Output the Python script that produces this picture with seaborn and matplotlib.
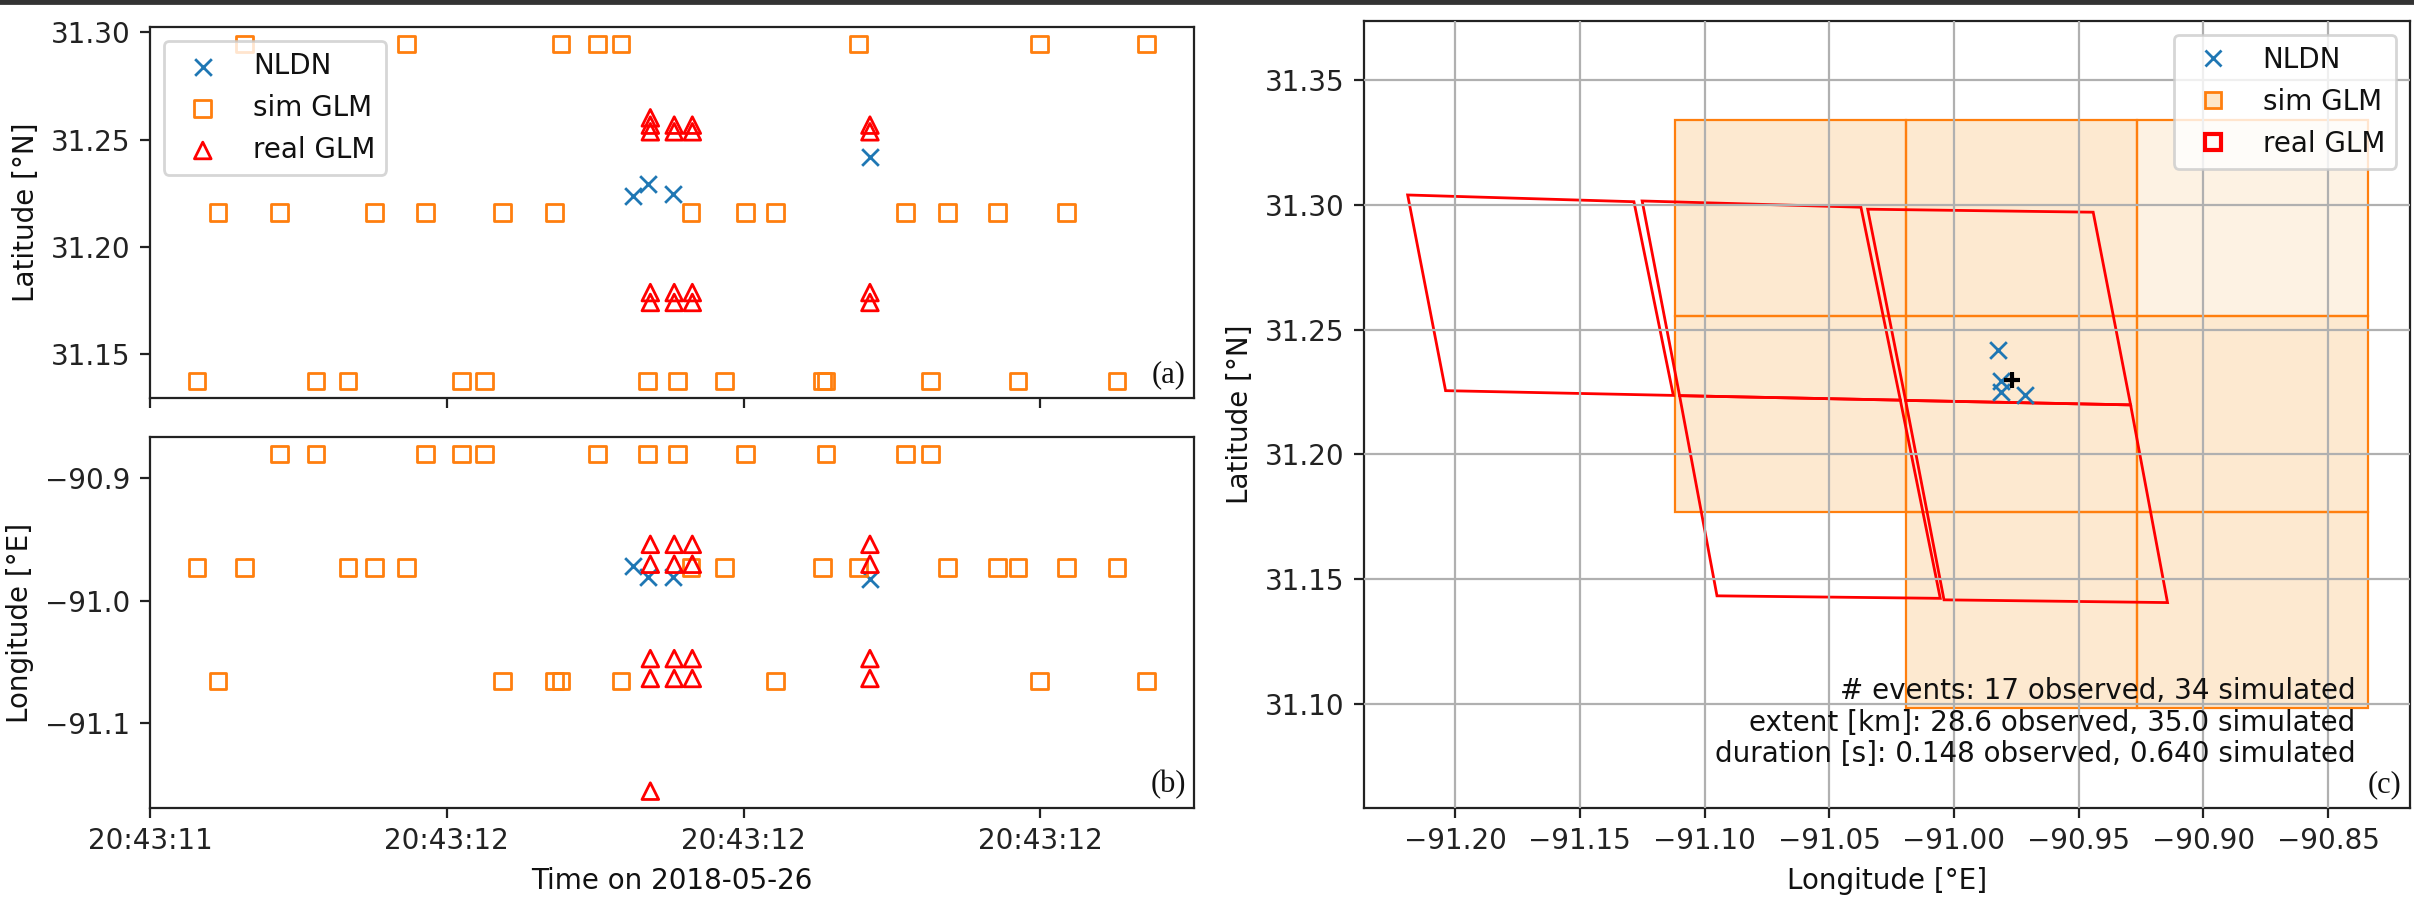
import numpy as np
import pandas as pd
import matplotlib
matplotlib.use("Agg")
import matplotlib.pyplot as plt
import matplotlib.dates as mdates
from matplotlib.patches import Polygon, Rectangle
from matplotlib.lines import Line2D
from matplotlib.ticker import FixedLocator, FuncFormatter
import seaborn as sns

# ---------------------------------------------------------------- data
DAY = "2018-05-26"
BASE = pd.Timestamp(f"{DAY} 20:43:00")

# NLDN strokes: seconds after 20:43:00, latitude, longitude
nldn_sec = [12.1252, 12.1355, 12.1527, 12.2852]
nldn_lat = [31.2237, 31.2294, 31.2248, 31.2418]
nldn_lon = [-90.9717, -90.9811, -90.9811, -90.9824]

# flash centroid
flash_lon = [-90.9768]
flash_lat = [31.2298]

# simulated GLM events (pixel centres)
sim_sec = [11.8316, 11.8458, 11.8637, 11.8871, 11.9118, 11.9335, 11.9514,
           11.9730, 11.9858, 12.0098, 12.0254, 12.0374, 12.0728, 12.0769,
           12.1014, 12.1175, 12.1355, 12.1556, 12.1645, 12.1872, 12.2013,
           12.2214, 12.2533, 12.2556, 12.2774, 12.3093, 12.3258, 12.3373,
           12.3710, 12.3850, 12.3993, 12.4177, 12.4517, 12.4716]
sim_lat = [31.1376, 31.2160, 31.2945, 31.2160, 31.1376, 31.1376, 31.2160,
           31.2945, 31.2160, 31.1376, 31.1376, 31.2160, 31.2160, 31.2945,
           31.2945, 31.2945, 31.1376, 31.1376, 31.2160, 31.1376, 31.2160,
           31.2160, 31.1376, 31.1376, 31.2945, 31.2160, 31.1376, 31.2160,
           31.2160, 31.1376, 31.2945, 31.2160, 31.1376, 31.2945]
sim_lon = [-90.9730, -91.0655, -90.9730, -90.8803, -90.8803, -90.9730,
           -90.9730, -90.9730, -90.8803, -90.8803, -90.8803, -91.0655,
           -91.0655, -91.0655, -90.8803, -91.0655, -90.8803, -90.8803,
           -90.9730, -90.9730, -90.8803, -91.0655, -90.9730, -90.8803,
           -90.9730, -90.8803, -90.8803, -90.9730, -90.9730, -90.9730,
           -91.0655, -90.9730, -90.9730, -91.0655]
SIM_DLON = 0.0925
SIM_DLAT = 0.0785

# observed GLM events
real_sec = [12.1372] * 5 + [12.1533] * 4 + [12.1655] * 4 + [12.2852] * 4
real_lat = ([31.2601, 31.2567, 31.1788, 31.2536, 31.1742]
            + [31.2567, 31.1788, 31.2536, 31.1742] * 3)
real_lon = ([-91.1554, -91.0635, -91.0473, -90.9703, -90.9541]
            + [-91.0635, -91.0473, -90.9703, -90.9541] * 3)

# observed GLM pixel footprints (corner longitudes / latitudes)
pix_lon = [[-91.2190, -91.1283, -91.1125, -91.2038],
           [-91.1250, -91.0373, -91.0215, -91.1100],
           [-91.1100, -91.0215, -91.0055, -91.0950],
           [-91.0346, -90.9442, -90.9292, -91.0194],
           [-91.0194, -90.9292, -90.9144, -91.0040]]
pix_lat = [[31.3039, 31.3012, 31.2236, 31.2255],
           [31.3015, 31.2990, 31.2217, 31.2235],
           [31.2235, 31.2217, 31.1423, 31.1433],
           [31.2982, 31.2970, 31.2198, 31.2216],
           [31.2216, 31.2198, 31.1406, 31.1417]]

extent_obs_km, extent_sim_km = 28.6, 35.0

# ---------------------------------------------------------------- frames
def to_time(sec):
    return BASE + pd.to_timedelta(np.asarray(sec), unit="s")

nldn = pd.DataFrame({"time": to_time(nldn_sec), "lat": nldn_lat, "lon": nldn_lon})
sim = pd.DataFrame({"time": to_time(sim_sec), "lat": sim_lat, "lon": sim_lon})
real = pd.DataFrame({"time": to_time(real_sec), "lat": real_lat, "lon": real_lon})

BLUE, ORANGE, RED = "#1f77b4", "#ff7f0e", "#ff0000"
FILL = "#fde6c8"

sns.set_style("white")
plt.rcParams.update({
    "font.family": ["DejaVu Sans"],
    "font.size": 10,
    "axes.edgecolor": "#222222",
    "axes.linewidth": 0.8,
    "xtick.bottom": True,
    "ytick.left": True,
    "xtick.color": "#222222",
    "ytick.color": "#222222",
    "text.color": "#111111",
    "axes.labelcolor": "#111111",
})


def fmt(decimals):
    """Tick formatter with a typographic minus sign."""
    return FuncFormatter(lambda v, _: f"{v:.{decimals}f}".replace("-", "\u2212"))


W, H = 2414, 902
fig = plt.figure(figsize=(W / 200, H / 200), dpi=200)


def frac(x0, y0, x1, y1):
    return [x0 / W, 1 - y1 / H, (x1 - x0) / W, (y1 - y0) / H]


ax_a = fig.add_axes(frac(150, 27, 1194, 398))
ax_b = fig.add_axes(frac(150, 437, 1194, 808), sharex=ax_a)
ax_c = fig.add_axes(frac(1364, 21, 2410, 808))

mk = dict(s=36, linewidth=1.0)


def time_series(ax, col, legend):
    sns.scatterplot(data=nldn, x="time", y=col, marker="x", color=BLUE,
                    ax=ax, label="NLDN" if legend else None, zorder=3, **mk)
    sns.scatterplot(data=sim, x="time", y=col, marker="s", color=ORANGE,
                    facecolor="none", edgecolor=ORANGE, ax=ax,
                    label="sim GLM" if legend else None, zorder=3, **mk)
    sns.scatterplot(data=real, x="time", y=col, marker="^", color=RED,
                    facecolor="none", edgecolor=RED, ax=ax,
                    label="real GLM" if legend else None, zorder=3, **mk)


time_series(ax_a, "lat", True)
time_series(ax_b, "lon", False)

ax_a.legend(loc="upper left")
ax_a.set_ylabel("Latitude [°N]")
ax_a.set_xlabel("")
ax_a.tick_params(labelbottom=False)
ax_a.yaxis.set_major_locator(FixedLocator([31.15, 31.20, 31.25, 31.30]))
ax_a.yaxis.set_major_formatter(fmt(2))

ax_b.set_ylabel("Longitude [°E]")
ax_b.set_xlabel(f"Time on {DAY}")
ax_b.yaxis.set_major_locator(FixedLocator([-91.1, -91.0, -90.9]))
ax_b.yaxis.set_major_formatter(fmt(1))

t_all = np.concatenate([nldn_sec, sim_sec, real_sec])
span = t_all.max() - t_all.min()
tick_sec = [11.8, 12.0, 12.2, 12.4]
ax_b.set_xlim(to_time([tick_sec[0]])[0], to_time([t_all.max() + 0.05 * span])[0])
ax_b.xaxis.set_major_locator(FixedLocator(mdates.date2num(to_time(tick_sec))))
ax_b.xaxis.set_major_formatter(mdates.DateFormatter("%H:%M:%S"))

for ax in (ax_a, ax_b):
    ax.margins(y=0.05)

# ---------------------------------------------------------------- map
pix = sim.groupby(["lon", "lat"]).size().reset_index(name="n")
for lon, lat, n in pix.itertuples(index=False):
    alpha = 0.85 if n > 1 else 0.5
    ax_c.add_patch(Rectangle((lon - SIM_DLON / 2, lat - SIM_DLAT / 2),
                             SIM_DLON, SIM_DLAT, facecolor=FILL, alpha=alpha,
                             edgecolor="none", zorder=1))
    ax_c.add_patch(Rectangle((lon - SIM_DLON / 2, lat - SIM_DLAT / 2),
                             SIM_DLON, SIM_DLAT, facecolor="none",
                             edgecolor=ORANGE, lw=0.8, zorder=1.2))

for plon, plat in zip(pix_lon, pix_lat):
    ax_c.add_patch(Polygon(np.column_stack([plon, plat]), closed=True,
                           fill=False, edgecolor=RED, lw=1.0, zorder=2))

sns.scatterplot(data=nldn, x="lon", y="lat", marker="x", color=BLUE,
                ax=ax_c, zorder=3, **mk)
ax_c.plot(flash_lon, flash_lat, marker="+", color="black", ms=6, mew=1.5,
          ls="none", zorder=4)

ax_c.set_xlim(-91.2365, -90.8172)
ax_c.set_ylim(31.0583, 31.3736)
ax_c.xaxis.set_major_locator(FixedLocator(np.round(np.arange(-91.20, -90.84, 0.05), 2)))
ax_c.yaxis.set_major_locator(FixedLocator(np.round(np.arange(31.10, 31.36, 0.05), 2)))
ax_c.xaxis.set_major_formatter(fmt(2))
ax_c.yaxis.set_major_formatter(fmt(2))
ax_c.grid(True, color="#b0b0b0", lw=0.8)
ax_c.set_axisbelow(False)
ax_c.set_xlabel("Longitude [°E]")
ax_c.set_ylabel("Latitude [°N]")

handles = [
    Line2D([], [], ls="none", marker="x", color=BLUE, ms=6, mew=1.0),
    Line2D([], [], ls="none", marker="s", mfc=FILL, mec=ORANGE, ms=6, mew=1.0),
    Line2D([], [], ls="none", marker="s", mfc="none", mec=RED, ms=6, mew=1.5),
]
ax_c.legend(handles, ["NLDN", "sim GLM", "real GLM"], loc="upper right")

dur_obs = max(real_sec) - min(real_sec)
dur_sim = max(sim_sec) - min(sim_sec)
summary = (f"# events: {len(real)} observed, {len(sim)} simulated\n"
           f"extent [km]: {extent_obs_km:.1f} observed, {extent_sim_km:.1f} simulated\n"
           f"duration [s]: {dur_obs:.3f} observed, {dur_sim:.3f} simulated")
ax_c.text(0.948, 0.051, summary, transform=ax_c.transAxes, ha="right",
          va="bottom", fontsize=10, linespacing=1.15, zorder=5)

for ax, tag in ((ax_a, "(a)"), (ax_b, "(b)"), (ax_c, "(c)")):
    ax.annotate(tag, xy=(1, 0), xycoords="axes fraction", xytext=(-3, 3),
                textcoords="offset points", ha="right", va="bottom",
                family="Liberation Serif", fontsize=11)

# thin dark rule along the top edge
fig.patches.append(Rectangle((0, 1 - 2.5 / H), 1, 2.5 / H,
                             transform=fig.transFigure, color="#333333"))

fig.savefig("out.png", dpi=200)
